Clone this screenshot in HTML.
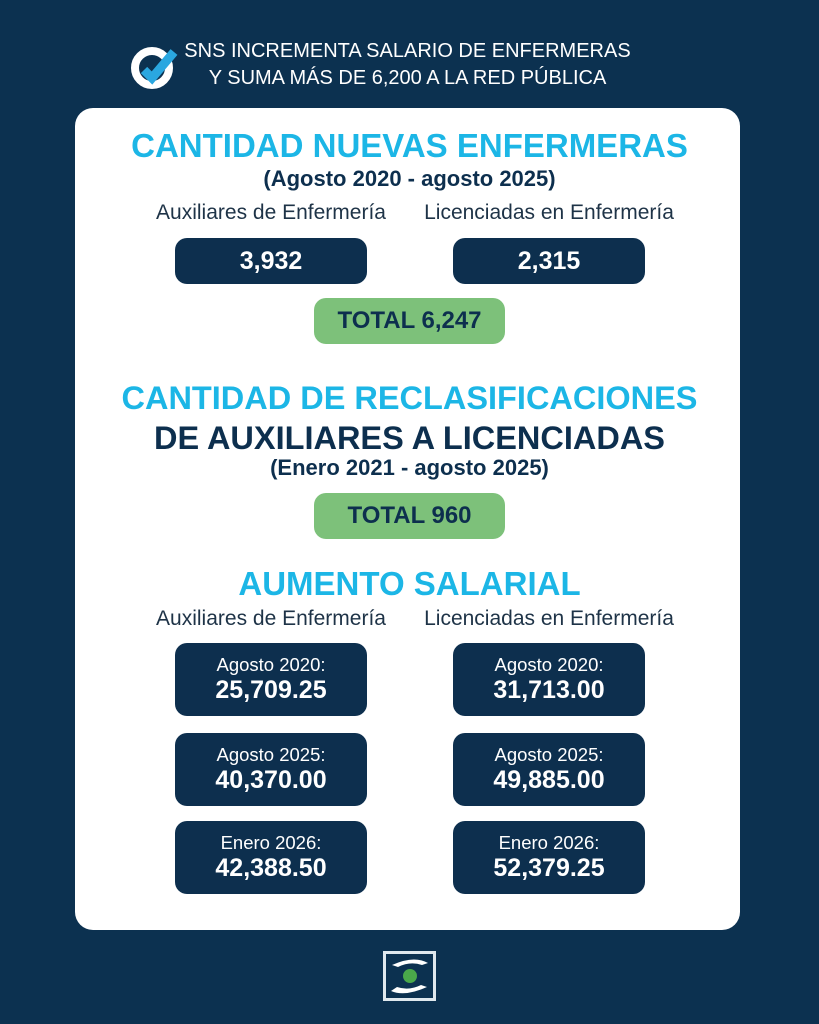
<!DOCTYPE html>
<html><head><meta charset="utf-8"><style>
*{margin:0;padding:0;box-sizing:border-box}
body{width:819px;height:1024px;background:#0c3150;position:relative;font-family:"Liberation Sans","DejaVu Sans",sans-serif;overflow:hidden}
.a{position:absolute}
.c{position:absolute;left:0;width:819px;text-align:center;white-space:nowrap}
.card{left:75px;top:108px;width:665px;height:822px;background:#fff;border-radius:18px}
.cy{color:#1cb6e6;font-weight:bold}
.dk{color:#0d2f4e;font-weight:bold}
.box{position:absolute;background:#0d2f4e;border-radius:12px;color:#fff;text-align:center}
.g{position:absolute;background:#7dc17a;border-radius:12px;color:#0d2f4e;font-weight:bold;text-align:center}
.lab{position:absolute;color:#1e3347;font-size:21px;text-align:center;width:280px;white-space:nowrap}
.s{font-size:18.5px;display:block;margin-top:11px;line-height:21px}
.v{font-size:25px;font-weight:bold;display:block;line-height:30px}
</style></head><body>
<svg class="a" style="left:130px;top:44px" width="48" height="46" viewBox="0 0 48 46">
<circle cx="22" cy="24" r="17" fill="none" stroke="#fff" stroke-width="8"/>
<path d="M14 26 L22 34 L44 8" fill="none" stroke="#2aa7e0" stroke-width="9"/>
</svg>
<div class="a" style="left:180px;top:38px;color:#fff;font-size:20px;line-height:27px;text-align:center;width:455px;white-space:nowrap">SNS INCREMENTA SALARIO DE ENFERMERAS<br>Y SUMA MÁS DE 6,200 A LA RED PÚBLICA</div>
<div class="a card"></div>
<div class="c cy" style="top:127px;font-size:33px">CANTIDAD NUEVAS ENFERMERAS</div>
<div class="c dk" style="top:166px;font-size:22px">(Agosto 2020 - agosto 2025)</div>
<div class="lab" style="left:131px;top:201px">Auxiliares de Enfermería</div>
<div class="lab" style="left:409px;top:201px">Licenciadas en Enfermería</div>
<div class="box" style="left:175px;top:238px;width:192px;height:46px;font-size:25px;font-weight:bold;line-height:46px">3,932</div>
<div class="box" style="left:453px;top:238px;width:192px;height:46px;font-size:25px;font-weight:bold;line-height:46px">2,315</div>
<div class="g" style="left:314px;top:298px;width:191px;height:46px;font-size:24px;line-height:46px">TOTAL 6,247</div>
<div class="c cy" style="top:380px;font-size:32.5px">CANTIDAD DE RECLASIFICACIONES</div>
<div class="c dk" style="top:420px;font-size:32.5px">DE AUXILIARES A LICENCIADAS</div>
<div class="c dk" style="top:455px;font-size:22px">(Enero 2021 - agosto 2025)</div>
<div class="g" style="left:314px;top:493px;width:191px;height:46px;font-size:24px;line-height:46px">TOTAL 960</div>
<div class="c cy" style="top:565px;font-size:33px">AUMENTO SALARIAL</div>
<div class="lab" style="left:131px;top:607px">Auxiliares de Enfermería</div>
<div class="lab" style="left:409px;top:607px">Licenciadas en Enfermería</div>
<div class="box" style="left:175px;top:643px;width:192px;height:73px"><span class="s">Agosto 2020:</span><span class="v">25,709.25</span></div>
<div class="box" style="left:453px;top:643px;width:192px;height:73px"><span class="s">Agosto 2020:</span><span class="v">31,713.00</span></div>
<div class="box" style="left:175px;top:733px;width:192px;height:73px"><span class="s">Agosto 2025:</span><span class="v">40,370.00</span></div>
<div class="box" style="left:453px;top:733px;width:192px;height:73px"><span class="s">Agosto 2025:</span><span class="v">49,885.00</span></div>
<div class="box" style="left:175px;top:821px;width:192px;height:73px"><span class="s">Enero 2026:</span><span class="v">42,388.50</span></div>
<div class="box" style="left:453px;top:821px;width:192px;height:73px"><span class="s">Enero 2026:</span><span class="v">52,379.25</span></div>
<svg class="a" style="left:383px;top:951px" width="53" height="50" viewBox="0 0 53 50">
<rect x="1.5" y="1.5" width="50" height="47" fill="none" stroke="#dfe8ee" stroke-width="3"/>
<path d="M8 40 Q22 46 44 36 L38 34 Q26 40 14 36Z" fill="#fff"/>
<path d="M45 12 Q31 4 9 14 L15 16 Q27 10 39 14Z" fill="#fff"/>
<circle cx="27" cy="25" r="7" fill="#4aa84a"/>
</svg>
</body></html>
